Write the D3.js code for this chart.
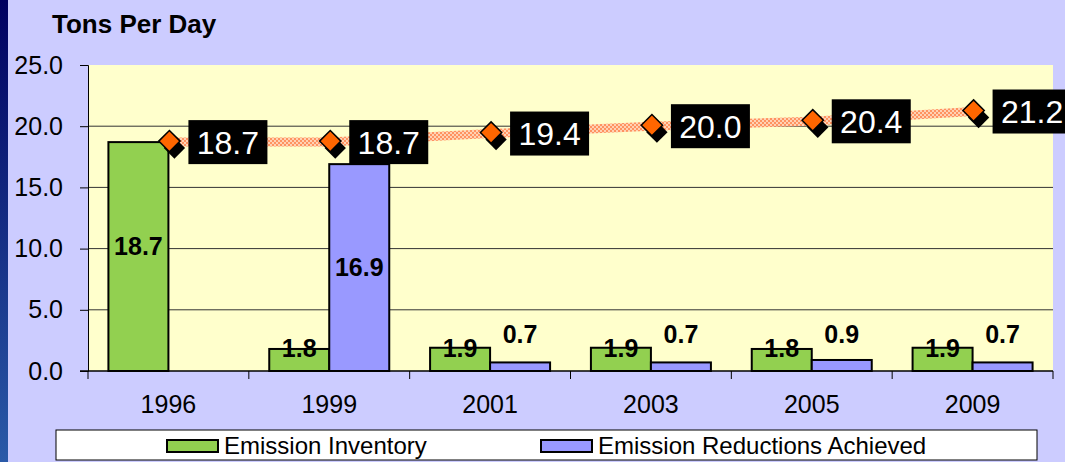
<!DOCTYPE html>
<meta charset="utf-8">
<style>
body { margin: 0; background: #ccccff; }
svg text { font-family: Arial, "Liberation Sans", sans-serif; }
</style>
<svg width="1065" height="462"></svg>
<script src="https://d3js.org/d3.v7.min.js"></script>
<script>

var years = ["1996", "1999", "2001", "2003", "2005", "2009"];
var inventory = [18.7, 1.8, 1.9, 1.9, 1.8, 1.9];
var reductions = [null, 16.9, 0.7, 0.7, 0.9, 0.7];
var totals = [18.7, 18.7, 19.4, 20.0, 20.4, 21.2];
var yTicks = [0, 5, 10, 15, 20, 25];

var svg = d3.select("svg"),
	width = +svg.attr("width"),
	height = +svg.attr("height");

var plot = {left: 88, right: 1053, top: 65, bottom: 371};

var defs = svg.append("defs");
var grad = defs.append("linearGradient").attr("id", "stripe")
	.attr("x1", 0).attr("y1", 0).attr("x2", 0).attr("y2", 1);
grad.append("stop").attr("offset", "0%").attr("stop-color", "#000060");
grad.append("stop").attr("offset", "100%").attr("stop-color", "#2a5aa8");

var pat = defs.append("pattern").attr("id", "checker")
	.attr("width", 4).attr("height", 4).attr("patternUnits", "userSpaceOnUse");
pat.append("rect").attr("width", 4).attr("height", 4).attr("fill", "#ffd2b4");
pat.append("rect").attr("width", 2).attr("height", 2).attr("fill", "#ff9360");
pat.append("rect").attr("x", 2).attr("y", 2).attr("width", 2).attr("height", 2).attr("fill", "#ff9360");

svg.append("rect").attr("width", width).attr("height", height).attr("fill", "#ccccff");
svg.append("rect").attr("width", 8).attr("height", height).attr("fill", "url(#stripe)");

svg.append("rect")
	.attr("x", plot.left).attr("y", plot.top)
	.attr("width", plot.right - plot.left).attr("height", plot.bottom - plot.top)
	.attr("fill", "#ffffcc");

var x = d3.scaleBand().domain(years).range([plot.left, plot.right]);
var y = d3.scaleLinear().domain([0, 25]).range([plot.bottom, plot.top]);
var barW = 60;
var cx = function(i) { return x(years[i]) + x.bandwidth() / 2; };

// grid
svg.append("g").selectAll("line")
	.data(yTicks.filter(function(d) { return d > 0 && d < 25; }))
	.enter().append("line")
	.attr("x1", plot.left).attr("x2", plot.right)
	.attr("y1", function(d) { return y(d); }).attr("y2", function(d) { return y(d); })
	.attr("stroke", "#333").attr("stroke-width", 1);

// y axis
var yAxis = svg.append("g")
	.attr("transform", "translate(" + plot.left + ",0)")
	.call(d3.axisLeft(y).tickValues(yTicks).tickFormat(d3.format(".1f")).tickSize(8).tickPadding(17));
yAxis.select(".domain").attr("stroke", "#000");
yAxis.selectAll(".tick line").attr("stroke", "#000");
yAxis.selectAll("text").attr("font-size", 25).attr("fill", "#000")
	.style("font-family", "Arial, 'Liberation Sans', sans-serif");

// bars
var invIdx = d3.range(years.length);
var redIdx = d3.range(years.length).filter(function(i) { return reductions[i] != null; });

svg.append("g").selectAll("rect")
	.data(invIdx)
	.enter().append("rect")
	.attr("x", function(i) { return cx(i) - barW; })
	.attr("y", function(i) { return y(inventory[i]); })
	.attr("width", barW)
	.attr("height", function(i) { return y(0) - y(inventory[i]); })
	.attr("fill", "#92d050").attr("stroke", "#000").attr("stroke-width", 2);

svg.append("g").selectAll("rect")
	.data(redIdx)
	.enter().append("rect")
	.attr("x", function(i) { return cx(i); })
	.attr("y", function(i) { return y(reductions[i]); })
	.attr("width", barW)
	.attr("height", function(i) { return y(0) - y(reductions[i]); })
	.attr("fill", "#9999ff").attr("stroke", "#000").attr("stroke-width", 2);

// x axis
var xAxis = svg.append("g")
	.attr("transform", "translate(0," + plot.bottom + ")")
	.call(d3.axisBottom(x).tickSize(0).tickPadding(24));
xAxis.select(".domain").remove();
xAxis.selectAll("text").attr("font-size", 25).attr("fill", "#000")
	.style("font-family", "Arial, 'Liberation Sans', sans-serif");
svg.append("line")
	.attr("x1", plot.left - 8).attr("x2", plot.right)
	.attr("y1", y(0)).attr("y2", y(0))
	.attr("stroke", "#000").attr("stroke-width", 1.5);
svg.append("g").selectAll("line")
	.data(d3.range(years.length + 1))
	.enter().append("line")
	.attr("x1", function(i) { return plot.left + i * x.step(); })
	.attr("x2", function(i) { return plot.left + i * x.step(); })
	.attr("y1", y(0)).attr("y2", y(0) + 8)
	.attr("stroke", "#000");

// bar labels
svg.append("g").selectAll("text")
	.data(invIdx)
	.enter().append("text")
	.attr("x", function(i) { return cx(i) - barW / 2; })
	.attr("y", function(i) { return Math.min((y(inventory[i]) + y(0)) / 2 - 10, y(0) - 23); })
	.attr("dy", "0.35em")
	.attr("text-anchor", "middle")
	.attr("font-size", 25).attr("font-weight", "bold")
	.text(function(i) { return inventory[i].toFixed(1); });

svg.append("g").selectAll("text")
	.data(redIdx)
	.enter().append("text")
	.attr("x", function(i) { return cx(i) + barW / 2; })
	.attr("y", function(i) { return Math.min((y(reductions[i]) + y(0)) / 2, y(0) - 37); })
	.attr("dy", "0.35em")
	.attr("text-anchor", "middle")
	.attr("font-size", 25).attr("font-weight", "bold")
	.text(function(i) { return reductions[i].toFixed(1); });

// total line
var line = d3.line()
	.x(function(d, i) { return cx(i); })
	.y(function(d) { return y(d); });
svg.append("path")
	.datum(totals)
	.attr("d", line)
	.attr("fill", "none")
	.attr("stroke", "url(#checker)")
	.attr("stroke-width", 9);

var diamond = d3.symbol().type(d3.symbolDiamond2).size(290);
svg.append("g").selectAll("path")
	.data(totals)
	.enter().append("path")
	.attr("d", diamond)
	.attr("transform", function(d, i) { return "translate(" + (cx(i) + 6) + "," + (y(d) + 6) + ")"; })
	.attr("fill", "#000");
svg.append("g").selectAll("path")
	.data(totals)
	.enter().append("path")
	.attr("d", diamond)
	.attr("transform", function(d, i) { return "translate(" + (cx(i) + 1) + "," + (y(d) - 1) + ")"; })
	.attr("fill", "#ff6600").attr("stroke", "#000").attr("stroke-width", 1.5);

var tl = svg.append("g").selectAll("g")
	.data(totals)
	.enter().append("g")
	.attr("transform", function(d, i) { return "translate(" + (cx(i) + 20) + "," + y(d) + ")"; });
tl.append("rect")
	.attr("x", 0).attr("y", -22)
	.attr("width", 79).attr("height", 44)
	.attr("fill", "#000");
tl.append("text")
	.attr("x", 39.5).attr("y", 0).attr("dy", "0.36em")
	.attr("text-anchor", "middle")
	.attr("font-size", 32).attr("fill", "#fff")
	.text(function(d) { return d.toFixed(1); });

// title
svg.append("text")
	.attr("x", 52).attr("y", 33)
	.attr("font-size", 26).attr("font-weight", "bold")
	.text("Tons Per Day");

// legend
var legend = svg.append("g");
legend.append("rect")
	.attr("x", 56).attr("y", 430).attr("width", 981).attr("height", 30)
	.attr("fill", "#fff").attr("stroke", "#000").attr("stroke-width", 1);
var items = [
	{label: "Emission Inventory", color: "#92d050", x: 167},
	{label: "Emission Reductions Achieved", color: "#9999ff", x: 541}
];
var li = legend.selectAll("g").data(items).enter().append("g")
	.attr("transform", function(d) { return "translate(" + d.x + ",440)"; });
li.append("rect")
	.attr("width", 51).attr("height", 12)
	.attr("fill", function(d) { return d.color; })
	.attr("stroke", "#000").attr("stroke-width", 2);
li.append("text")
	.attr("x", 57).attr("y", 6).attr("dy", "0.35em")
	.attr("font-size", 24)
	.text(function(d) { return d.label; });

</script>
